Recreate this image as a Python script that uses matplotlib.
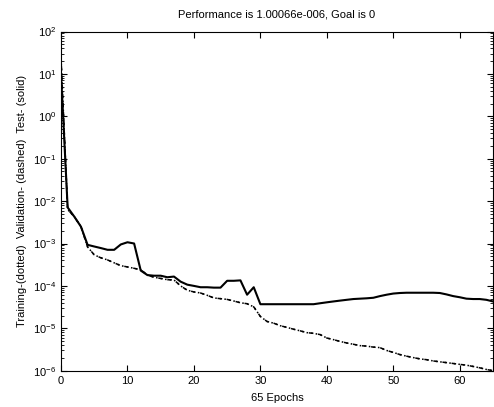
import matplotlib
matplotlib.use("Agg")
import matplotlib.pyplot as plt
import numpy as np
from matplotlib.ticker import LogLocator, NullFormatter, FixedLocator

epochs = list(range(66))

training = [25, 6.3e-3, 4.3e-3, 2.5e-3, 8.3e-4, 5.4e-4, 4.6e-4, 4.1e-4, 3.5e-4, 3.0e-4,
            2.8e-4, 2.6e-4, 2.4e-4, 1.8e-4, 1.6e-4, 1.5e-4, 1.4e-4, 1.38e-4, 1.0e-4, 7.9e-5,
            7.2e-5, 6.8e-5, 6.0e-5, 5.2e-5, 5.0e-5, 4.8e-5, 4.4e-5, 4.0e-5, 3.8e-5, 3.2e-5,
            1.9e-5, 1.45e-5, 1.32e-5, 1.15e-5, 1.05e-5, 9.5e-6, 8.7e-6, 7.9e-6, 7.6e-6, 7.1e-6,
            5.9e-6, 5.4e-6, 4.9e-6, 4.5e-6, 4.2e-6, 3.9e-6, 3.8e-6, 3.6e-6, 3.5e-6, 3.0e-6,
            2.7e-6, 2.4e-6, 2.2e-6, 2.04e-6, 1.9e-6, 1.82e-6, 1.7e-6, 1.62e-6, 1.55e-6, 1.48e-6,
            1.41e-6, 1.35e-6, 1.26e-6, 1.17e-6, 1.07e-6, 1.00066e-6]

validation = [25, 6.3e-3, 4.3e-3, 2.5e-3, 8.3e-4, 5.4e-4, 4.6e-4, 4.1e-4, 3.5e-4, 3.0e-4,
              2.8e-4, 2.6e-4, 2.4e-4, 1.8e-4, 1.6e-4, 1.5e-4, 1.4e-4, 1.38e-4, 1.0e-4, 7.9e-5,
              7.2e-5, 6.8e-5, 6.0e-5, 5.2e-5, 5.0e-5, 4.8e-5, 4.4e-5, 4.0e-5, 3.8e-5, 3.2e-5,
              1.9e-5, 1.45e-5, 1.32e-5, 1.15e-5, 1.05e-5, 9.5e-6, 8.7e-6, 7.9e-6, 7.6e-6, 7.1e-6,
              5.9e-6, 5.4e-6, 4.9e-6, 4.5e-6, 4.2e-6, 3.9e-6, 3.8e-6, 3.6e-6, 3.5e-6, 3.0e-6,
              2.7e-6, 2.4e-6, 2.2e-6, 2.04e-6, 1.9e-6, 1.82e-6, 1.7e-6, 1.62e-6, 1.55e-6, 1.48e-6,
              1.41e-6, 1.35e-6, 1.26e-6, 1.17e-6, 1.07e-6, 1.00066e-6]

test = [10, 7.1e-3, 4.3e-3, 2.5e-3, 9.3e-4, 8.5e-4, 7.8e-4, 7.1e-4, 7.1e-4, 9.5e-4,
        1.07e-3, 1.0e-3, 2.3e-4, 1.8e-4, 1.74e-4, 1.74e-4, 1.6e-4, 1.66e-4, 1.26e-4, 1.07e-4,
        1.0e-4, 9.3e-5, 9.3e-5, 9.1e-5, 9.1e-5, 1.32e-4, 1.32e-4, 1.35e-4, 6.2e-5, 9.3e-5,
        3.7e-5, 3.7e-5, 3.7e-5, 3.7e-5, 3.7e-5, 3.7e-5, 3.7e-5, 3.7e-5, 3.7e-5, 3.9e-5,
        4.1e-5, 4.3e-5, 4.5e-5, 4.7e-5, 4.9e-5, 5.0e-5, 5.1e-5, 5.25e-5, 5.75e-5, 6.2e-5,
        6.6e-5, 6.8e-5, 6.9e-5, 6.9e-5, 6.9e-5, 6.9e-5, 6.9e-5, 6.8e-5, 6.3e-5, 5.75e-5,
        5.4e-5, 5.0e-5, 4.9e-5, 4.9e-5, 4.7e-5, 4.3e-5]

x_ticks = [0, 10, 20, 30, 40, 50, 60]
title = "Performance is 1.00066e-006, Goal is 0"
xlabel = "65 Epochs"
ylabel = "Training-(dotted)  Validation- (dashed)  Test- (solid)"

plt.rcParams['font.family'] = ['Liberation Sans', 'DejaVu Sans']
fig = plt.figure(figsize=(4.94, 4.07), dpi=100)
ax = fig.add_axes([61/494, 1 - 370.7/407, 432/494, (370.7 - 31.5)/407])

ax.plot(epochs, validation, color='black', linestyle=(0, (3, 3)), linewidth=1.1)
ax.plot(epochs, training, color='black', linestyle=(1.5, (1, 2)), linewidth=1.1)
ax.plot(epochs, test, color='black', linestyle='-', linewidth=1.5)

ax.set_yscale('log')
ax.set_xlim(0, 65)
ax.set_ylim(1e-6, 1e2)
ax.xaxis.set_major_locator(FixedLocator(x_ticks))
ax.yaxis.set_major_locator(LogLocator(base=10, numticks=20))
ax.yaxis.set_minor_locator(LogLocator(base=10, subs=np.arange(2, 10), numticks=20))
ax.yaxis.set_minor_formatter(NullFormatter())

ax.tick_params(axis='both', which='both', direction='in', top=True, right=True,
               labelsize=8, colors='black')
ax.tick_params(axis='both', which='major', length=4, width=0.8)
ax.tick_params(axis='both', which='minor', length=2, width=0.6)
for s in ax.spines.values():
    s.set_linewidth(0.8)

ax.set_title(title, fontsize=8, pad=10)
ax.set_xlabel(xlabel, fontsize=8, labelpad=5)
ax.set_ylabel(ylabel, fontsize=8, labelpad=4)

fig.savefig("out.png", dpi=100, facecolor='white')
